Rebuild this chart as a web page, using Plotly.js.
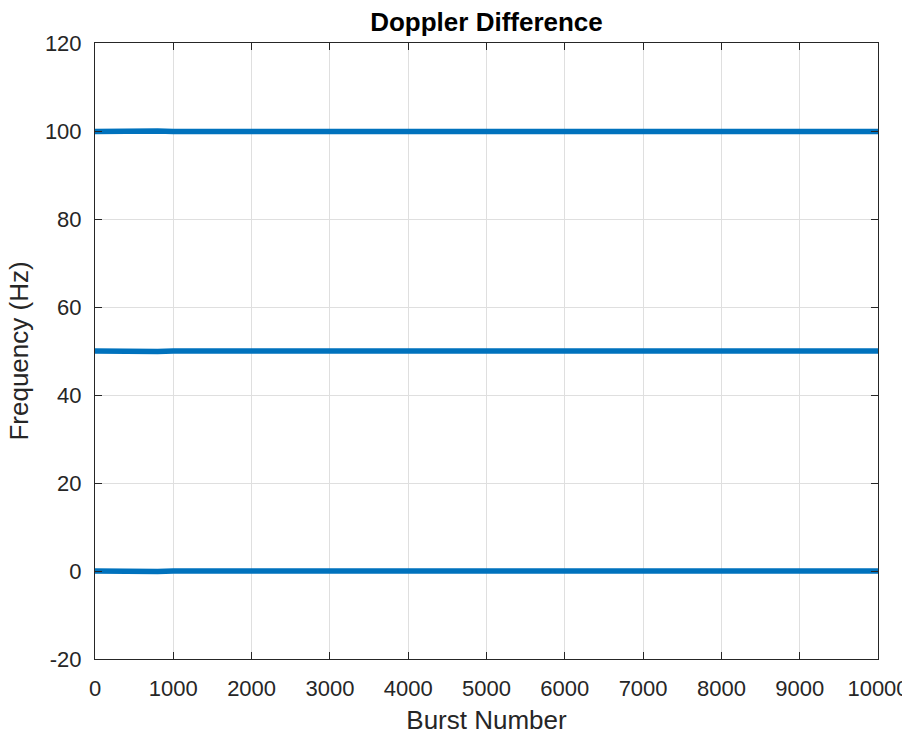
<!DOCTYPE html>
<html>
<head>
<meta charset="utf-8">
<script src="https://cdn.plot.ly/plotly-3.0.1.min.js"></script>
<style>html,body{margin:0;padding:0;background:#fff;}</style>
</head>
<body>
<div id="chart" style="width:902px;height:735px;"></div>
<script>
// Burst numbers sampled every 200 bursts
const bursts = [0,200,400,600,800,1000,1200,1400,1600,1800,2000,2200,2400,2600,2800,3000,3200,3400,3600,3800,4000,4200,4400,4600,4800,5000,5200,5400,5600,5800,6000,6200,6400,6600,6800,7000,7200,7400,7600,7800,8000,8200,8400,8600,8800,9000,9200,9400,9600,9800,10000];
// Doppler difference (Hz)
const diff100 = [99.9,100.0,99.9,100.0,100.0,99.9,99.9,100.0,100.0,99.9,100.1,99.9,100.0,99.9,100.0,100.0,99.9,100.0,100.0,100.1,99.9,100.0,100.0,99.9,100.0,99.9,100.0,100.0,100.1,99.9,100.0,99.9,100.0,99.9,100.0,100.1,99.9,100.0,99.9,100.0,99.9,100.0,100.0,99.9,100.0,99.9,100.0,100.1,99.9,100.0,99.9];
const diff50 = [50.0,49.9,50.0,50.0,49.9,50.0,50.0,49.9,50.0,50.0,49.9,50.0,50.0,49.9,50.0,50.0,49.9,50.0,50.0,49.9,50.0,50.0,49.9,50.0,50.0,49.9,50.0,50.0,50.0,49.9,50.0,50.0,49.9,50.0,49.8,50.0,50.0,49.9,50.0,50.0,49.9,50.0,50.0,49.9,50.0,50.0,49.9,50.0,50.0,49.9,50.0];
const diff0 = [0.0,-0.1,0.0,0.0,-0.1,0.0,0.0,-0.1,0.0,0.0,-0.1,0.0,0.0,-0.1,0.0,0.0,0.0,-0.1,0.0,0.0,0.0,-0.1,0.0,0.0,-0.1,0.0,0.0,0.0,-0.1,0.0,0.0,-0.1,0.0,0.0,-0.1,0.0,-0.1,0.0,0.0,-0.1,0.0,0.0,-0.1,0.0,0.0,-0.1,0.0,0.0,-0.1,0.0,0.0];
const xTicks = [0,1000,2000,3000,4000,5000,6000,7000,8000,9000,10000];
const yTicks = [-20,0,20,40,60,80,100,120];

const lineColor = '#0072BD';
const font = 'Liberation Sans, Arial, Helvetica, sans-serif';
const traces = [diff0, diff50, diff100].map(v => ({
  x: bursts, y: v, type: 'scatter', mode: 'lines',
  line: {color: lineColor, width: 5.5}, showlegend: false, hoverinfo: 'skip'
}));

const axisCommon = {
  showline: true, linecolor: '#262626', linewidth: 1, mirror: 'allticks',
  ticks: 'inside', ticklen: 7, tickwidth: 1, tickcolor: '#262626',
  showgrid: true, gridcolor: '#dfdfdf', gridwidth: 1, zeroline: false,
  ticklabeloverflow: 'allow',
  tickfont: {family: font, size: 22, color: '#262626'}
};

const layout = {
  width: 902, height: 735,
  margin: {l: 95, r: 24, t: 43, b: 76},
  paper_bgcolor: '#ffffff', plot_bgcolor: '#ffffff',
  title: {text: '<b>Doppler Difference</b>', x: 0.5, xanchor: 'center', xref: 'paper', y: 1 - 22/735, yref: 'container', yanchor: 'middle',
          font: {family: font, size: 26, color: '#000000'}},
  xaxis: Object.assign({}, axisCommon, {
    range: [0, 10000], tickvals: xTicks, ticktext: xTicks.map(String),
    ticklabelstandoff: 10,
    title: {text: 'Burst Number', standoff: 10, font: {family: font, size: 26, color: '#262626'}}
  }),
  yaxis: Object.assign({}, axisCommon, {
    range: [-20, 120], tickvals: yTicks, ticktext: yTicks.map(String),
    ticklabelstandoff: 8,
    title: {text: 'Frequency (Hz)', standoff: 8, font: {family: font, size: 26, color: '#262626'}}
  })
};

Plotly.newPlot('chart', traces, layout, {displayModeBar: false, staticPlot: true});
</script>
</body>
</html>
